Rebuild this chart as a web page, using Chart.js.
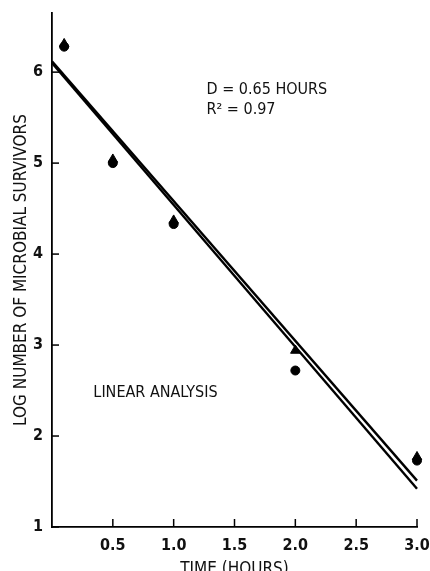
<!DOCTYPE html>
<html>
<head>
<meta charset="utf-8">
<script src="https://cdn.jsdelivr.net/npm/chart.js@4.4.1/dist/chart.umd.min.js"></script>
<style>
  html, body { margin: 0; padding: 0; background: #fff; }
  #wrap { width: 430px; height: 571px; position: relative; }
</style>
</head>
<body>
<div id="wrap"><canvas id="c" width="430" height="571"></canvas></div>
<script>
// ---- data ----
const timeTriangle = [0.1, 0.5, 1.0, 2.0, 3.0];
const logTriangle  = [6.31, 5.04, 4.37, 2.94, 1.77];
const timeCircle   = [0.1, 0.5, 1.0, 2.0, 3.0];
const logCircle    = [6.28, 5.00, 4.33, 2.72, 1.73];
const fitTime      = [0, 3.0];
const fitLineA     = [6.12, 1.51];
const fitLineB     = [6.10, 1.42];
const xTickValues  = [0.5, 1.0, 1.5, 2.0, 2.5, 3.0];
const yTickValues  = [1, 2, 3, 4, 5, 6];
const xTitle = 'TIME (HOURS)';
const yTitle = 'LOG NUMBER OF MICROBIAL SURVIVORS';
const noteLines = ['D = 0.65 HOURS', 'R\u00B2 = 0.97'];
const methodLabel = 'LINEAR ANALYSIS';

const FONT = "'Liberation Sans Narrow', 'DejaVu Sans Condensed', 'Liberation Sans', Arial, sans-serif";

const pts = (xs, ys) => xs.map((x, i) => ({ x, y: ys[i] }));

const overlay = {
  id: 'overlay',
  afterDraw(chart) {
    const { ctx, chartArea: a, scales: { x, y } } = chart;
    ctx.save();
    ctx.strokeStyle = '#000';
    ctx.lineWidth = 1.5;
    yTickValues.forEach(v => {
      const py = y.getPixelForValue(v);
      ctx.beginPath(); ctx.moveTo(a.left, py); ctx.lineTo(a.left + 7, py); ctx.stroke();
    });
    xTickValues.forEach(v => {
      const px = x.getPixelForValue(v);
      ctx.beginPath(); ctx.moveTo(px, a.bottom); ctx.lineTo(px, a.bottom - 8); ctx.stroke();
    });
    ctx.fillStyle = '#111';
    ctx.textBaseline = 'middle';
    ctx.textAlign = 'left';
    ctx.font = '16px ' + FONT;
    ctx.fillText(noteLines[0], x.getPixelForValue(1.27), y.getPixelForValue(5.81));
    ctx.fillText(noteLines[1], x.getPixelForValue(1.27), y.getPixelForValue(5.58));
    ctx.fillText(methodLabel, x.getPixelForValue(0.34), y.getPixelForValue(2.48));
    ctx.restore();
  }
};

new Chart(document.getElementById('c'), {
  type: 'scatter',
  data: {
    datasets: [
      { label: 'fit A', data: pts(fitTime, fitLineA), showLine: true, borderColor: '#000', borderWidth: 2.4, pointRadius: 0, clip: false },
      { label: 'fit B', data: pts(fitTime, fitLineB), showLine: true, borderColor: '#000', borderWidth: 2.4, pointRadius: 0, clip: false },
      { label: 'triangles', data: pts(timeTriangle, logTriangle), pointStyle: 'triangle', pointRadius: 5.5, backgroundColor: '#000', borderColor: '#000', borderWidth: 1, clip: false },
      { label: 'circles', data: pts(timeCircle, logCircle), pointStyle: 'circle', pointRadius: 4.5, backgroundColor: '#000', borderColor: '#000', borderWidth: 1, clip: false }
    ]
  },
  options: {
    responsive: false,
    animation: false,
    events: [],
    layout: { padding: { left: 0, top: 13, right: 13, bottom: 0 } },
    plugins: { legend: { display: false }, tooltip: { enabled: false } },
    scales: {
      x: {
        type: 'linear', min: 0, max: 3.0,
        afterBuildTicks: s => { s.ticks = xTickValues.map(v => ({ value: v })); },
        afterFit: s => { s.height = 44; s.paddingRight = 0; s.paddingLeft = 0; },
        grid: { display: false, drawTicks: false },
        border: { display: true, color: '#000', width: 1.8 },
        ticks: { color: '#111', padding: 9, maxRotation: 0, autoSkip: false,
                 font: { family: FONT, size: 16, weight: 'bold' },
                 callback: v => Number(v).toFixed(1) },
        title: { display: true, text: xTitle, color: '#111', font: { family: FONT, size: 17 },
                 padding: { top: 0, bottom: -9 } }
      },
      y: {
        type: 'linear', min: 1, max: 6.65,
        afterBuildTicks: s => { s.ticks = yTickValues.map(v => ({ value: v })); },
        afterFit: s => { s.width = 52; s.paddingTop = 0; s.paddingBottom = 0; },
        grid: { display: false, drawTicks: false },
        border: { display: true, color: '#000', width: 1.8 },
        ticks: { color: '#111', padding: 9, autoSkip: false,
                 font: { family: FONT, size: 16, weight: 'bold' },
                 callback: v => String(v) },
        title: { display: true, text: yTitle, color: '#111', font: { family: FONT, size: 17 },
                 padding: { top: 11, bottom: 0 } }
      }
    }
  },
  plugins: [overlay]
});
</script>
</body>
</html>
